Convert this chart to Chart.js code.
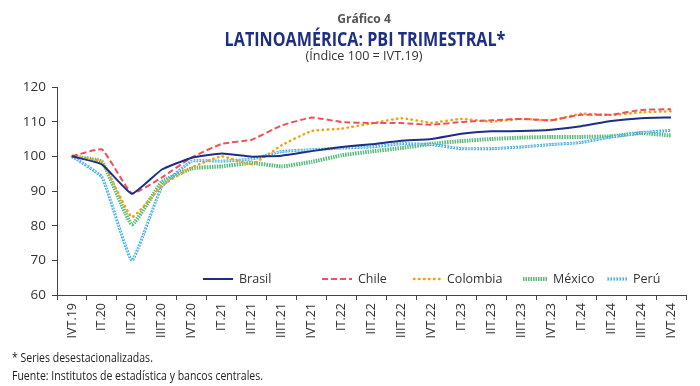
<!DOCTYPE html>
<html>
<head>
<meta charset="utf-8">
<script src="https://cdn.jsdelivr.net/npm/chart.js@4/dist/chart.umd.min.js"></script>
<style>
  html, body { margin: 0; padding: 0; background: #fff; }
  #wrap { position: relative; width: 700px; height: 386px; overflow: hidden; }
  #chart { position: absolute; left: 0; top: 0; }
  .txt { position: absolute; left: 0; width: 700px; text-align: center; font-family: "Open Sans", sans-serif; transform-origin: 350px 0; }
  #t1 { top: 9px; font-size: 13px; font-weight: bold; color: #555; transform: translateX(14px) scaleX(0.93); }
  #t2 { top: 26px; font-size: 19px; font-weight: bold; color: #1d2f82; transform: translateX(15px) scaleX(0.85); }
  #t3 { top: 46px; font-size: 13px; color: #333; transform: translateX(14px) scaleX(0.97); }
  .note { position: absolute; left: 12px; white-space: nowrap; font-family: "Open Sans", sans-serif; font-size: 12px; color: #222; transform: scaleX(0.875); transform-origin: 0 0; }
</style>
</head>
<body>
<div id="wrap">
  <canvas id="chart" width="700" height="386"></canvas>
  <div class="txt" id="t1">Gráfico 4</div>
  <div class="txt" id="t2">LATINOAMÉRICA: PBI TRIMESTRAL*</div>
  <div class="txt" id="t3">(Índice 100 = IVT.19)</div>
  <div class="note" style="top:349px">* Series desestacionalizadas.</div>
  <div class="note" style="top:367px">Fuente: Institutos de estadística y bancos centrales.</div>
</div>
<script>
// Quarter labels
const quarters = ['IVT.19', 'IT.20', 'IIT.20', 'IIIT.20', 'IVT.20', 'IT.21', 'IIT.21', 'IIIT.21', 'IVT.21',
  'IT.22', 'IIT.22', 'IIIT.22', 'IVT.22', 'IT.23', 'IIT.23', 'IIIT.23', 'IVT.23', 'IT.24', 'IIT.24', 'IIIT.24', 'IVT.24'];

// Index values (100 = IVT.19)
const brasil   = [100, 97.7, 89.2, 96.2, 99.6, 100.8, 99.9, 100.2, 101.5, 102.7, 103.5, 104.5, 105.0, 106.5, 107.2, 107.3, 107.7, 108.7, 110.2, 111.0, 111.2];
const chile    = [100, 102.0, 89.3, 93.9, 99.7, 103.6, 104.8, 108.9, 111.2, 109.9, 109.6, 109.6, 109.1, 109.9, 110.4, 110.8, 110.4, 112.0, 112.0, 113.4, 113.6];
const colombia = [100, 98.4, 82.5, 91.5, 96.8, 100.0, 97.7, 103.2, 107.3, 108.0, 109.5, 111.0, 109.7, 110.8, 110.0, 110.8, 110.4, 112.3, 111.9, 112.7, 113.0];
const mexico   = [100, 98.4, 80.4, 92.6, 96.5, 97.1, 98.1, 97.1, 98.4, 100.3, 101.4, 102.4, 103.6, 104.4, 105.0, 105.4, 105.6, 105.6, 105.8, 106.7, 106.0];
const peru     = [100, 94.0, 70.0, 91.2, 98.6, 98.6, 99.2, 101.4, 101.9, 102.4, 102.7, 103.6, 103.4, 102.2, 102.2, 102.7, 103.4, 104.0, 105.6, 106.8, 107.5];

const yTicks = [60, 70, 80, 90, 100, 110, 120];

const FONT = "'Open Sans', sans-serif";

// legend entries (style for sample + label)
const legendItems = [
  { label: 'Brasil',   color: '#1d2f82', width: 2,   dash: [],       x: 203, len: 30 },
  { label: 'Chile',    color: '#f0505a', width: 2,   dash: [6, 3],   x: 322, len: 30 },
  { label: 'Colombia', color: '#f5a10f', width: 2.5, dash: [0.5, 4.5], x: 414, len: 27 },
  { label: 'México',   color: '#5bbb7a', width: 4,   dash: [1.5, 1], x: 523, len: 24 },
  { label: 'Perú',     color: '#48aee8', width: 3,   dash: [2, 1],   x: 607, len: 20 }
];

const insideLegend = {
  id: 'insideLegend',
  afterDatasetsDraw(chart) {
    const ctx = chart.ctx;
    const y = 279;
    ctx.save();
    ctx.font = '12.5px ' + FONT;
    ctx.textBaseline = 'middle';
    ctx.fillStyle = '#333';
    legendItems.forEach(it => {
      ctx.beginPath();
      ctx.strokeStyle = it.color;
      ctx.lineWidth = it.width;
      ctx.lineCap = it.label === 'Colombia' ? 'round' : 'butt';
      ctx.setLineDash(it.dash);
      ctx.moveTo(it.x, y);
      ctx.lineTo(it.x + it.len, y);
      ctx.stroke();
      if (it.label === 'Perú') {
        ctx.beginPath();
        ctx.strokeStyle = '#fff';
        ctx.lineWidth = 1;
        ctx.setLineDash([1, 2]);
        ctx.moveTo(it.x, y);
        ctx.lineTo(it.x + it.len, y);
        ctx.stroke();
      }
      ctx.setLineDash([]);
      ctx.fillText(it.label, it.x + it.len + 6, y);
    });
    ctx.restore();
  }
};

const ctx = document.getElementById('chart').getContext('2d');
new Chart(ctx, {
  type: 'line',
  data: {
    labels: quarters,
    datasets: [
      { label: 'Brasil', data: brasil, borderColor: '#1d2f82', borderWidth: 2 },
      { label: 'Chile', data: chile, borderColor: '#f0505a', borderWidth: 2, borderDash: [6, 3] },
      { label: 'Colombia', data: colombia, borderColor: '#f5a10f', borderWidth: 2.5, borderDash: [0.5, 4.5], borderCapStyle: 'round' },
      { label: 'Perú (hueco)', data: peru, borderColor: 'rgba(255,255,255,0.9)', borderWidth: 1, borderDash: [1, 2] },
      { label: 'Perú', data: peru, borderColor: '#48aee8', borderWidth: 3, borderDash: [2, 1] },
      { label: 'México', data: mexico, borderColor: '#5bbb7a', borderWidth: 4, borderDash: [1.5, 1] }
    ]
  },
  options: {
    responsive: false,
    animation: false,
    devicePixelRatio: 1,
    elements: {
      point: { radius: 0 },
      line: { tension: 0.12, fill: false }
    },
    layout: { padding: { left: 0, top: 87, right: 14, bottom: 0 } },
    plugins: {
      legend: { display: false },
      tooltip: { enabled: false }
    },
    scales: {
      x: {
        offset: true,
        grid: { offset: true, drawOnChartArea: false, drawTicks: true, tickLength: 5, color: '#444' },
        border: { color: '#444', width: 1 },
        ticks: {
          autoSkip: false, maxRotation: 90, minRotation: 90,
          color: '#333', font: { family: FONT, size: 12.5 }, padding: 3
        },
        afterFit(scale) { scale.height = 91; }
      },
      y: {
        min: 60, max: 120,
        afterBuildTicks(scale) { scale.ticks = yTicks.map(v => ({ value: v })); },
        grid: { drawOnChartArea: false, drawTicks: true, tickLength: 5, color: '#444' },
        border: { color: '#444', width: 1 },
        ticks: { color: '#333', font: { family: FONT, size: 13.5 }, padding: 6 },
        afterFit(scale) { scale.width = 57; }
      }
    }
  },
  plugins: [insideLegend]
});
</script>
</body>
</html>
